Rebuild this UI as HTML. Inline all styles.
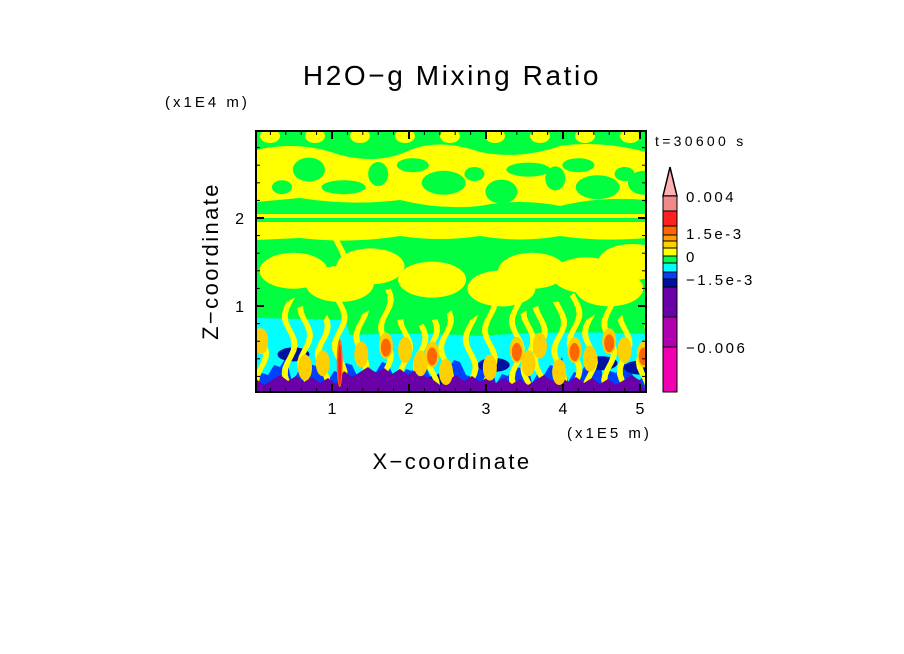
<!DOCTYPE html>
<html><head><meta charset="utf-8"><style>
body{margin:0;background:#fff;width:904px;height:654px;overflow:hidden}
svg{display:block}
text{font-family:"Liberation Sans",sans-serif;fill:#000}
</style></head><body>
<svg id="c" width="904" height="654">
<text x="452" y="85" font-size="28" text-anchor="middle" letter-spacing="2.6">H2O−g Mixing Ratio</text>
<text x="165" y="107" font-size="15" letter-spacing="3">(x1E4 m)</text>
<text x="218" y="261" font-size="22" text-anchor="middle" letter-spacing="2.4" transform="rotate(-90 218 261)">Z−coordinate</text>
<text x="452" y="469" font-size="22" text-anchor="middle" letter-spacing="2.4">X−coordinate</text>
<text x="567" y="438" font-size="15" letter-spacing="3">(x1E5 m)</text>
<text x="655" y="146" font-size="14" letter-spacing="3.3">t=30600 s</text>
<defs><clipPath id="pc"><rect x="256" y="131" width="390" height="261"/></clipPath></defs>
<g id="plot" clip-path="url(#pc)"></g>
<rect x="256" y="131" width="390" height="261" fill="none" stroke="#000" stroke-width="2"/>
<g id="ticks"></g>
<g id="cbar"></g>
</svg>
<script>
const xTicks=[1,2,3,4,5];
const zTicks=[1,2];
// plumes: x position (1e5 m), top height (1e4 m), core level (0 none,1 gold,2 orange,3 red), core height (1e4 m)
const plumeX=[0.08,0.45,0.65,0.88,1.1,1.38,1.7,1.95,2.15,2.3,2.48,2.8,3.05,3.4,3.55,3.7,3.95,4.15,4.35,4.6,4.8,5.05];
const plumeTop=[0.75,1.1,1.0,0.9,1.9,0.95,1.2,0.85,0.8,0.85,0.95,0.9,1.1,1.2,0.95,1.0,1.05,1.15,0.9,1.1,0.9,0.8];
const plumeCore=[1,0,1,1,3,1,2,1,1,2,1,0,1,2,1,1,1,2,1,2,1,2];
const coreZ=[0.6,0.4,0.3,0.35,0.35,0.45,0.55,0.5,0.35,0.45,0.25,0.4,0.3,0.5,0.35,0.55,0.25,0.5,0.4,0.6,0.5,0.45];
const blueHoles=[[0.5,0.45],[2.45,0.15],[3.1,0.33],[4.5,0.35],[5.0,0.3]];
// upper green holes in yellow band
const holeX=[0.35,0.7,1.15,1.6,2.05,2.45,2.85,3.2,3.55,3.9,4.2,4.45,4.8,5.05];
const holeZ=[2.35,2.55,2.35,2.5,2.6,2.4,2.5,2.3,2.55,2.45,2.6,2.35,2.5,2.4];
// colorbar
const levels=["#f08a8a","#ff2020","#ff6600","#ffa000","#ffd000","#ffff00","#00ff40","#00ffff","#0040ff","#0010a0","#6a00a8","#b000b0","#f000b0"];
const levelEdges=[196,211,226,235,241,248,256,263,272,279,287,317,347,392];
const cbLabels=["0.004","1.5e-3","0","−1.5e-3","−0.006"];
const cbLabelY=[196,233,256,279,347];

const X=v=>255+v*77, Z=v=>394-v*88;
const NS="http://www.w3.org/2000/svg";
function mk(tag,attrs,parent){const e=document.createElementNS(NS,tag);for(const k in attrs)e.setAttribute(k,attrs[k]);parent.appendChild(e);return e;}
const P=document.getElementById('plot');
const Y="#ffff00",G="#00ff40";
let e;
e=mk('rect',{x:256,y:131,width:390,height:261,fill:G},P);


e=mk('path',{d:"M256 150 Q300 140 340 155 Q380 165 410 150 Q440 138 480 152 Q520 160 560 146 Q600 140 646 152 L646 200 Q600 196 560 206 Q520 198 480 206 Q440 210 400 200 Q350 206 300 198 L256 202 Z",fill:Y},P);


holeX.forEach((h,i)=>{
 e=mk('ellipse',{cx:X(h),cy:Z(holeZ[i]),rx:10+(i%3)*6,ry:7+(i%2)*5,fill:G},P);
 
 
});
for(let i=0;i<9;i++){
 e=mk('ellipse',{cx:270+i*45,cy:136,rx:10,ry:7,fill:Y},P);
 
 
}
e=mk('rect',{x:256,y:214,width:390,height:4,fill:Y},P);


e=mk('path',{d:"M256 222 L646 222 L646 238 Q600 242 560 236 Q520 243 480 236 Q440 242 400 236 Q350 244 300 238 L256 240 Z",fill:Y},P);


const midB=[[0.5,1.4],[1.5,1.45],[2.3,1.3],[3.6,1.4],[4.3,1.35],[4.9,1.5],[1.1,1.25],[3.2,1.2],[4.6,1.2]];
midB.forEach(b=>{
 e=mk('ellipse',{cx:X(b[0]),cy:Z(b[1]),rx:34,ry:18,fill:Y},P);
 
 
});
// cyan region
e=mk('path',{d:"M256 318 L345 320 L350 335 Q420 332 480 336 Q560 330 646 334 L646 392 L256 392 Z",fill:"#00ffff"},P);


let bd="M256 352";
for(let x=256;x<=646;x+=6){bd+=` L${x} ${362+((x*7)%23)-(x%4)*3}`;}
bd+=" L646 392 L256 392 Z";
e=mk('path',{d:bd,fill:"#0040ff"},P);


blueHoles.forEach(b=>{
 e=mk('ellipse',{cx:X(b[0]),cy:Z(b[1]),rx:16,ry:7,fill:"#0010a0"},P);
 
 
});
// yellow plumes over cyan/blue
plumeX.forEach((px,i)=>{
 const x=X(px),top=Z(plumeTop[i]);let d=`M${x-3} 392`;
 for(let y=392;y>=top;y-=6)d+=` L${x-3+Math.sin(y/9+i)*5} ${y}`;
 for(let y=top;y<=392;y+=6)d+=` L${x+3+Math.sin(y/9+i)*5} ${y}`;
 e=mk('path',{d:d+" Z",fill:Y},P);
 
 
});
let pd="M256 392";
for(let x=256;x<=646;x+=8){pd+=` L${x} ${385-((x*13)%11)-(x>340&&x<430?8:0)}`;}
pd+=" L646 392 Z";
e=mk('path',{d:pd,fill:"#6a00a8"},P);


plumeX.forEach((px,i)=>{
 const c=plumeCore[i];if(!c)return;
 const x=X(px),cy=Z(coreZ[i]);
 e=mk('ellipse',{cx:x,cy:cy,rx:c==3?3:7,ry:c==3?24:13,fill:c==3?"#ff6600":"#ffd000"},P);
 
 
 if(c>=2){
  e=mk('ellipse',{cx:x,cy:cy+2,rx:c==3?1.5:5,ry:c==3?20:9,fill:c==3?"#ff2020":"#ff6600"},P);
  
  
 }
});
const T=document.getElementById('ticks');
for(let v=0.2;v<5.15;v+=0.2){const x=X(v),maj=Math.abs(v-Math.round(v))<0.01;const L=maj?8:4;
 mk('line',{x1:x,y1:392,x2:x,y2:392-L,stroke:"#000","stroke-width":maj?2:1},T);
 mk('line',{x1:x,y1:131,x2:x,y2:131+L,stroke:"#000","stroke-width":maj?2:1},T);}
for(let v=0.2;v<2.98;v+=0.2){const y=Z(v),maj=Math.abs(v-Math.round(v))<0.01;const L=maj?8:4;
 mk('line',{x1:256,y1:y,x2:256+L,y2:y,stroke:"#000","stroke-width":maj?2:1},T);
 mk('line',{x1:646,y1:y,x2:646-L,y2:y,stroke:"#000","stroke-width":maj?2:1},T);}
xTicks.forEach(v=>{e=mk('text',{x:X(v),y:414,"font-size":16,"text-anchor":"middle"},T);e.textContent=v;
 
 });
zTicks.forEach(v=>{e=mk('text',{x:244,y:Z(v)+6,"font-size":16,"text-anchor":"end"},T);e.textContent=v;
 
 });
const C=document.getElementById('cbar');
e=mk('path',{d:"M663 196 L670 167 L677 196 Z",fill:"#ffb0b0",stroke:"#000","stroke-width":1.5},C);


levels.forEach((col,i)=>{
 e=mk('rect',{x:663,y:levelEdges[i],width:14,height:levelEdges[i+1]-levelEdges[i],fill:col,stroke:"#000","stroke-width":1},C);
 
 
});
cbLabels.forEach((t,i)=>{e=mk('text',{x:686,y:cbLabelY[i]+6,"font-size":15,"letter-spacing":2.5},C);e.textContent=t;
 
 });
</script>
</body></html>
